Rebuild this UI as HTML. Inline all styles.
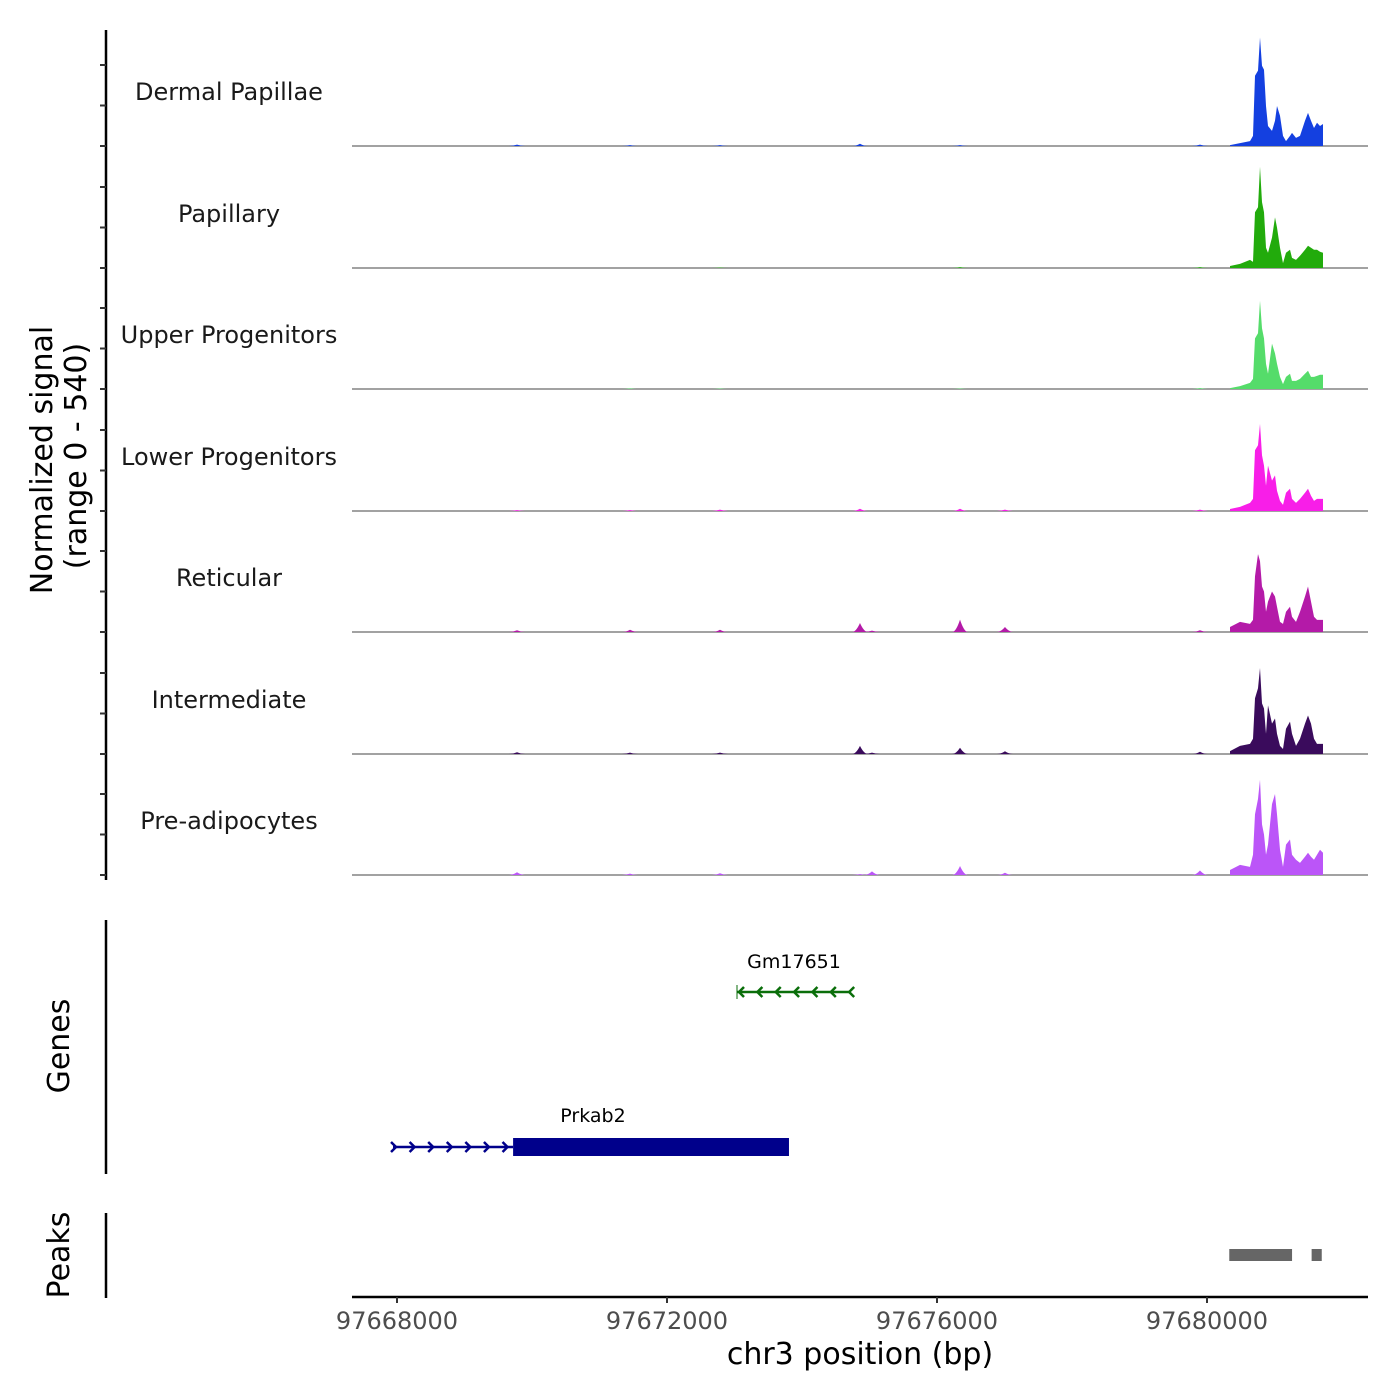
<!DOCTYPE html>
<html><head><meta charset="utf-8"><style>
html,body{margin:0;padding:0;background:#fff;}
svg{display:block;font-family:"DejaVu Sans","Liberation Sans",sans-serif;}
</style></head><body>
<svg id="chart" width="1400" height="1400" viewBox="0 0 1400 1400" xmlns="http://www.w3.org/2000/svg">
<rect width="1400" height="1400" fill="#fff"/>
<g id="tracks"></g>
<g id="yaxis"></g>
<text transform="translate(52,460) rotate(-90)" text-anchor="middle" font-size="30" fill="#000">Normalized signal</text>
<text transform="translate(86,456) rotate(-90)" text-anchor="middle" font-size="30" fill="#000">(range 0 - 540)</text>
<line x1="106" y1="920" x2="106" y2="1174" stroke="#000" stroke-width="2.5"/>
<text transform="translate(69,1046) rotate(-90)" text-anchor="middle" font-size="30">Genes</text>
<g id="genes"></g>
<line x1="106" y1="1213" x2="106" y2="1298" stroke="#000" stroke-width="2.5"/>
<text transform="translate(69,1255) rotate(-90)" text-anchor="middle" font-size="30">Peaks</text>
<g id="peaks"></g>
<g id="xaxis"></g>
<text x="860" y="1364" text-anchor="middle" font-size="30">chr3 position (bp)</text>
</svg>
<script>
const trackNames = ["Dermal Papillae","Papillary","Upper Progenitors","Lower Progenitors","Reticular","Intermediate","Pre-adipocytes"];
const trackColors = ["#1440e0","#22ab0c","#55dc6a","#f81ee8","#b41aa8","#3a0b5c","#bb55f8"];
const peakPos = [97680341,97680489,97680637,97680681,97680711,97680756,97680785,97680815,97680844,97680874,97680904,97680963,97681007,97681037,97681081,97681126,97681170,97681230,97681259,97681319,97681378,97681452,97681496,97681541,97681585,97681630,97681674,97681719];
const dermalPapillae = [4,13,22,45,312,335,482,357,339,178,89,67,112,178,134,45,22,45,58,36,45,112,147,112,80,103,89,98];
const papillary = [9,18,36,27,248,270,450,293,248,90,68,135,225,180,90,22,68,81,45,36,54,81,99,90,81,81,72,68];
const upperProg = [4,13,27,45,225,248,392,270,225,112,68,202,158,112,54,22,54,68,36,36,45,68,81,54,54,58,63,63];
const lowerProg = [9,18,36,54,270,292,387,248,202,112,202,135,158,90,45,27,81,99,54,36,54,81,99,68,45,54,54,54];
const reticular = [22,45,36,54,248,346,315,202,180,90,135,180,158,112,45,36,90,112,68,45,90,158,202,135,68,54,54,54];
const intermediate = [13,36,45,68,248,292,382,225,202,90,216,135,158,90,36,22,112,144,90,36,68,135,171,135,68,45,45,45];
const preAdipocytes = [22,45,36,90,270,338,423,225,180,90,135,315,360,270,112,36,135,158,90,68,54,81,99,81,68,90,112,99];
const trackValues = [dermalPapillae,papillary,upperProg,lowerProg,reticular,intermediate,preAdipocytes];
const bumpPos = [97669778,97671452,97672785,97674859,97675037,97676341,97677007,97679896];
const bumpVals = [
  [6,4,4,10,0,4,0,6],
  [0,0,2,0,0,4,0,4],
  [0,3,2,0,0,2,0,4],
  [4,4,6,10,0,10,6,6],
  [8,10,10,40,6,55,22,8],
  [8,6,6,36,6,28,12,10],
  [12,6,8,4,16,40,10,20]
];
const xTicks = [97668000,97672000,97676000,97680000];
const genePrkab2 = {start:97667941, cdsStart:97669720, end:97673807};
const geneGm = {start:97673037, end:97674726};
const peakStarts = [97680330,97681550];
const peakEnds = [97681260,97681700];

const NS="http://www.w3.org/2000/svg";
function X(bp){return 397+(bp-97668000)*270/4000;}
const baselines=[146,268,389,511,632,754,875];
const trackH=121.5;
function Y(v,i){return baselines[i]-v/540*trackH;}
function mk(tag,attrs,parent){const e=document.createElementNS(NS,tag);for(const k in attrs)e.setAttribute(k,attrs[k]);parent.appendChild(e);return e;}

const tg=document.getElementById('tracks');
trackNames.forEach((name,i)=>{
  const g=mk('g',{},tg);
  
  
  const b=baselines[i];
  const bl=mk('line',{x1:352,x2:1368,y1:b,y2:b,stroke:'#6a6a6a','stroke-width':1.2},g);
  
  
  bumpPos.forEach((p,j)=>{
    const v=bumpVals[i][j]; if(!v)return;
    const bx=X(p), w=8;
    const bp=mk('path',{d:`M${bx-w},${b} Q${bx-w/2},${b} ${bx},${Y(v,i)} Q${bx+w/2},${b} ${bx+w},${b}Z`,fill:trackColors[i]},g);
    
    
  });
  let d=`M${X(peakPos[0])},${b}`;
  peakPos.forEach((p,j)=>{d+=` L${X(p).toFixed(1)},${Y(trackValues[i][j],i).toFixed(1)}`;});
  d+=` L${X(peakPos[peakPos.length-1]).toFixed(1)},${b}Z`;
  const ar=mk('path',{d,fill:trackColors[i]},g);
  
  
  const t=mk('text',{x:229,y:b-46,'text-anchor':'middle','font-size':24,fill:'#1a1a1a'},g);
  t.textContent=name;
  
  
});

const ya=document.getElementById('yaxis');
const ax=mk('line',{x1:106,x2:106,y1:30,y2:880,stroke:'#000','stroke-width':2.5},ya);


baselines.forEach(b=>{for(let k=0;k<3;k++){const y=b-k*trackH/3;
  const tk=mk('line',{x1:100,x2:106,y1:y,y2:y,stroke:'#333','stroke-width':2},ya);
  
  }});

const gg=document.getElementById('genes');
(function(){const g=mk('g',{},gg);
  
  
  const x1=X(geneGm.start),x2=X(geneGm.end),y=992,c='#0a6e0a';
  mk('line',{x1,x2,y1:y,y2:y,stroke:c,'stroke-width':2.5},g);
  mk('line',{x1,x2:x1,y1:y-7,y2:y+7,stroke:c,'stroke-width':1},g);
  for(let k=0;k<7;k++){const ax=x1+2+k*(x2-x1-2)/6.1;
    mk('path',{d:`M${ax+5},${y-5} L${ax},${y} L${ax+5},${y+5}`,stroke:c,fill:'none','stroke-width':2.5},g);}
  const t=mk('text',{x:(x1+x2)/2,y:968,'text-anchor':'middle','font-size':19},g);t.textContent='Gm17651';
  
  
})();
(function(){const g=mk('g',{},gg);
  
  
  const x1=X(genePrkab2.start),xc=X(genePrkab2.cdsStart),x2=X(genePrkab2.end),y=1147,c='#00008b';
  mk('line',{x1,x2:xc,y1:y,y2:y,stroke:c,'stroke-width':2.5},g);
  for(let k=0;k<7;k++){const ax=x1+3+k*(xc-x1-3)/6.3;
    mk('path',{d:`M${ax-5},${y-5} L${ax},${y} L${ax-5},${y+5}`,stroke:c,fill:'none','stroke-width':2.5},g);}
  mk('rect',{x:xc,y:y-9,width:x2-xc,height:18,fill:c},g);
  const t=mk('text',{x:593,y:1122,'text-anchor':'middle','font-size':19},g);t.textContent='Prkab2';
  
  
})();

const pg=document.getElementById('peaks');
peakStarts.forEach((s,i)=>{const r=mk('rect',{x:X(s),y:1249,width:X(peakEnds[i])-X(s),height:12,fill:'#666'},pg);
  
  });

const xa=document.getElementById('xaxis');
const xl=mk('line',{x1:352,x2:1368,y1:1297,y2:1297,stroke:'#000','stroke-width':2.5},xa);


xTicks.forEach(v=>{const x=X(v);
  const tk=mk('line',{x1:x,x2:x,y1:1297,y2:1303,stroke:'#333','stroke-width':2},xa);
  
  
  const t=mk('text',{x,y:1329,'text-anchor':'middle','font-size':24,fill:'#4d4d4d'},xa);t.textContent=v;
  
  });
</script>
</body></html>
